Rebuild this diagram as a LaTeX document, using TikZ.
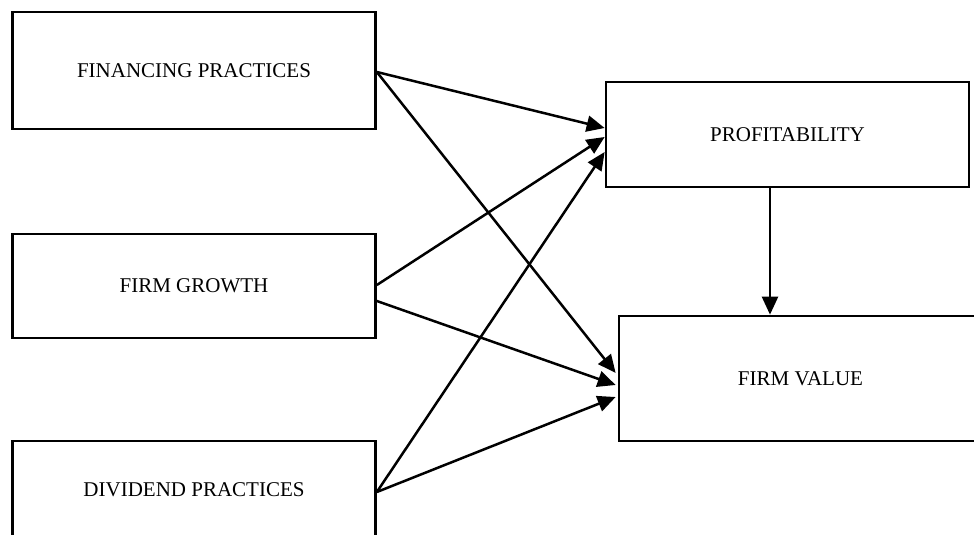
\documentclass[tikz,border=0pt]{standalone}
\usepackage{fontspec}
\setmainfont{Liberation Serif}
\usepackage{tikz}
\usetikzlibrary{arrows.meta}
\tikzset{
  varbox/.style={
    draw=black,
    line width=2.7pt,
    align=center,
    inner sep=0pt,
    font=\fontsize{21}{25}\selectfont
  },
  flowarrow/.style={
    -{Triangle[length=18pt,width=16pt]},
    line width=2.5pt,
    draw=black
  }
}

\begin{document}
\begin{tikzpicture}[x=1pt,y=-1pt]
    \useasboundingbox (0,0) rectangle (974,535);

    \node[varbox, minimum width=363pt, minimum height=117pt] (finance) at (194,70.5) {FINANCING PRACTICES};
    \node[varbox, minimum width=363pt, minimum height=104pt] (growth) at (194,286) {FIRM GROWTH};
    \node[varbox, minimum width=363pt, minimum height=98pt] (dividend) at (194,490) {DIVIDEND PRACTICES};
    \node[varbox, minimum width=363pt, minimum height=105pt] (profit) at (787.5,134.5) {PROFITABILITY};
    \node[varbox, minimum width=363pt, minimum height=125pt] (value) at (800.5,378.5) {FIRM VALUE};

    \draw[flowarrow] ([yshift=-1.5pt]finance.east) -- ([yshift=6.5pt]profit.west);
    \draw[flowarrow] ([yshift=-1.5pt]finance.east) -- ([xshift=-2pt,yshift=5.5pt]value.west);
    \draw[flowarrow] ([yshift=1pt]growth.east) -- ([yshift=-2.5pt]profit.west);
    \draw[flowarrow] ([yshift=-15pt]growth.east) -- ([xshift=-2pt,yshift=-6.5pt]value.west);
    \draw[flowarrow] ([yshift=-2pt]dividend.east) -- ([yshift=-17.5pt]profit.west);
    \draw[flowarrow] ([yshift=-2pt]dividend.east) -- ([xshift=-2pt,yshift=-18.5pt]value.west);
    \draw[flowarrow] ([xshift=-17.5pt]profit.south) -- ([xshift=-17.5pt]profit.south |- value.north);
\end{tikzpicture}
\end{document}
